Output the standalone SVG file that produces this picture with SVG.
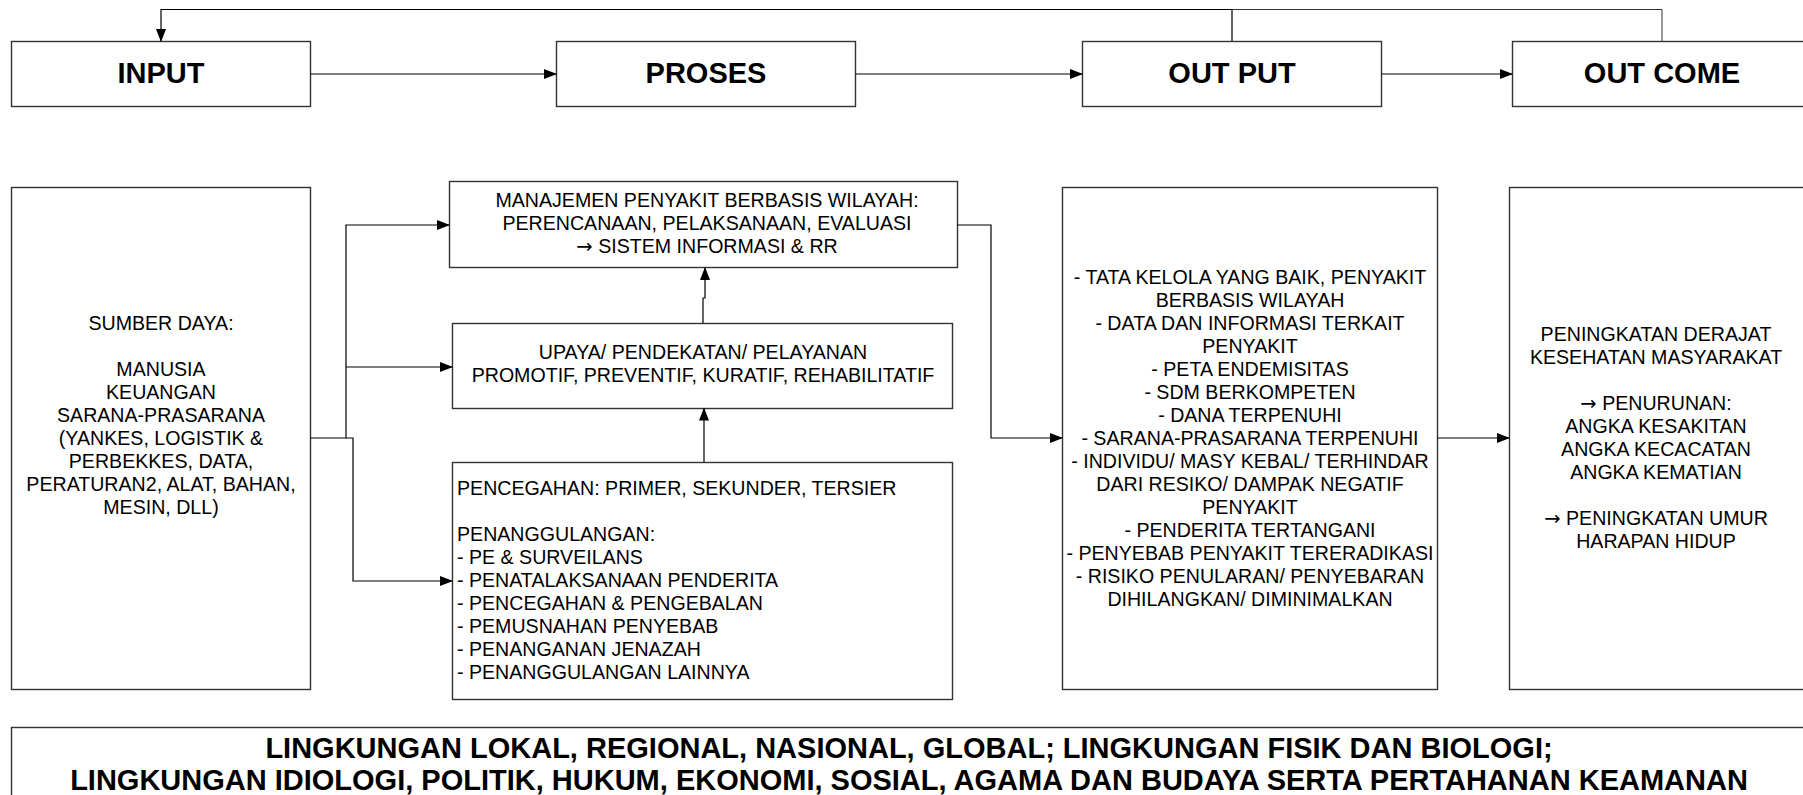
<svg xmlns="http://www.w3.org/2000/svg" width="1803" height="795" viewBox="0 0 1803 795">
<style>
.box{fill:#fff;stroke:#333;stroke-width:1.4}
.t{font-family:"Liberation Sans",Arial,"DejaVu Sans",sans-serif;font-size:19.6px;fill:#000}
.c{text-anchor:middle}
.ar{font-family:"DejaVu Sans",sans-serif}
.h{font-family:"Liberation Sans",Arial,sans-serif;font-size:29px;font-weight:bold;text-anchor:middle;fill:#000}
.ln{fill:none;stroke:#000;stroke-width:1.2}
.ln2{fill:none;stroke:#333;stroke-width:1}
</style>
<defs>
<marker id="ah" markerWidth="13" markerHeight="10" refX="12" refY="5" orient="auto" markerUnits="userSpaceOnUse">
<path d="M0,0 L13,5 L0,10 z" fill="#000"/>
</marker>
</defs>
<rect width="1803" height="795" fill="#fff"/>

<g id="input"><rect class="box" x="11.5" y="41.5" width="299" height="65"/><text class="h" x="161" y="83">INPUT</text></g>
<g id="proses"><rect class="box" x="556.5" y="41.5" width="299" height="65"/><text class="h" x="706" y="83">PROSES</text></g>
<g id="output"><rect class="box" x="1082.5" y="41.5" width="299" height="65"/><text class="h" x="1232" y="83">OUT PUT</text></g>
<g id="outcome"><rect class="box" x="1512.5" y="41.5" width="300" height="65"/><text class="h" x="1662" y="83">OUT COME</text></g>

<g id="sumberdaya"><rect class="box" x="11.5" y="187.5" width="299" height="502"/>
<text class="t c" x="161" y="330">SUMBER DAYA:</text>
<text class="t c" x="161" y="376">MANUSIA</text>
<text class="t c" x="161" y="399">KEUANGAN</text>
<text class="t c" x="161" y="422">SARANA-PRASARANA</text>
<text class="t c" x="161" y="445">(YANKES, LOGISTIK &amp;</text>
<text class="t c" x="161" y="468">PERBEKKES, DATA,</text>
<text class="t c" x="161" y="491">PERATURAN2, ALAT, BAHAN,</text>
<text class="t c" x="161" y="514">MESIN, DLL)</text>
</g>

<g id="manajemen"><rect class="box" x="449.5" y="181.5" width="508" height="86"/>
<text class="t c" x="707" y="207">MANAJEMEN PENYAKIT BERBASIS WILAYAH:</text>
<text class="t c" x="707" y="230">PERENCANAAN, PELAKSANAAN, EVALUASI</text>
<text class="t c" x="707" y="253"><tspan class="ar">→</tspan> SISTEM INFORMASI &amp; RR</text>
</g>

<g id="upaya"><rect class="box" x="452.5" y="323.5" width="500" height="85"/>
<text class="t c" x="703" y="359">UPAYA/ PENDEKATAN/ PELAYANAN</text>
<text class="t c" x="703" y="382">PROMOTIF, PREVENTIF, KURATIF, REHABILITATIF</text>
</g>

<g id="pencegahan"><rect class="box" x="452.5" y="462.5" width="500" height="237"/>
<text class="t" x="457" y="495">PENCEGAHAN: PRIMER, SEKUNDER, TERSIER</text>
<text class="t" x="457" y="541">PENANGGULANGAN:</text>
<text class="t" x="457" y="564">- PE &amp; SURVEILANS</text>
<text class="t" x="457" y="587">- PENATALAKSANAAN PENDERITA</text>
<text class="t" x="457" y="610">- PENCEGAHAN &amp; PENGEBALAN</text>
<text class="t" x="457" y="633">- PEMUSNAHAN PENYEBAB</text>
<text class="t" x="457" y="656">- PENANGANAN JENAZAH</text>
<text class="t" x="457" y="679">- PENANGGULANGAN LAINNYA</text>
</g>

<g id="hasil"><rect class="box" x="1062.5" y="187.5" width="375" height="502"/>
<text class="t c" x="1250" y="284">- TATA KELOLA YANG BAIK, PENYAKIT</text>
<text class="t c" x="1250" y="307">BERBASIS WILAYAH</text>
<text class="t c" x="1250" y="330">- DATA DAN INFORMASI TERKAIT</text>
<text class="t c" x="1250" y="353">PENYAKIT</text>
<text class="t c" x="1250" y="376">- PETA ENDEMISITAS</text>
<text class="t c" x="1250" y="399">- SDM BERKOMPETEN</text>
<text class="t c" x="1250" y="422">- DANA TERPENUHI</text>
<text class="t c" x="1250" y="445">- SARANA-PRASARANA TERPENUHI</text>
<text class="t c" x="1250" y="468">- INDIVIDU/ MASY KEBAL/ TERHINDAR</text>
<text class="t c" x="1250" y="491">DARI RESIKO/ DAMPAK NEGATIF</text>
<text class="t c" x="1250" y="514">PENYAKIT</text>
<text class="t c" x="1250" y="537">- PENDERITA TERTANGANI</text>
<text class="t c" x="1250" y="560">- PENYEBAB PENYAKIT TERERADIKASI</text>
<text class="t c" x="1250" y="583">- RISIKO PENULARAN/ PENYEBARAN</text>
<text class="t c" x="1250" y="606">DIHILANGKAN/ DIMINIMALKAN</text>
</g>

<g id="dampak"><rect class="box" x="1509.5" y="187.5" width="300" height="502"/>
<text class="t c" x="1656" y="341">PENINGKATAN DERAJAT</text>
<text class="t c" x="1656" y="364">KESEHATAN MASYARAKAT</text>
<text class="t c" x="1656" y="410"><tspan class="ar">→</tspan> PENURUNAN:</text>
<text class="t c" x="1656" y="433">ANGKA KESAKITAN</text>
<text class="t c" x="1656" y="456">ANGKA KECACATAN</text>
<text class="t c" x="1656" y="479">ANGKA KEMATIAN</text>
<text class="t c" x="1656" y="525"><tspan class="ar">→</tspan> PENINGKATAN UMUR</text>
<text class="t c" x="1656" y="548">HARAPAN HIDUP</text>
</g>

<g id="lingkungan"><rect class="box" x="11.5" y="727.5" width="1800" height="80"/>
<text class="h" x="909" y="758">LINGKUNGAN LOKAL, REGIONAL, NASIONAL, GLOBAL; LINGKUNGAN FISIK DAN BIOLOGI;</text>
<text class="h" x="909" y="790">LINGKUNGAN IDIOLOGI, POLITIK, HUKUM, EKONOMI, SOSIAL, AGAMA DAN BUDAYA SERTA PERTAHANAN KEAMANAN</text>
</g>

<g id="connectors">
<path class="ln" d="M1232,41 V9.5 H161 V41" marker-end="url(#ah)"/>
<path class="ln2" d="M1662,41 V9.5 H1232"/>
<path class="ln" d="M310.5,74 H556" marker-end="url(#ah)"/>
<path class="ln" d="M855.5,74 H1082" marker-end="url(#ah)"/>
<path class="ln" d="M1381.5,74 H1512" marker-end="url(#ah)"/>
<path class="ln" d="M310.5,438 H346 V225 H449" marker-end="url(#ah)"/>
<path class="ln" d="M346,367 H452" marker-end="url(#ah)"/>
<path class="ln" d="M346,438 H353 V581 H452" marker-end="url(#ah)"/>
<path class="ln" d="M703,323 V298 H705 V268" marker-end="url(#ah)"/>
<path class="ln" d="M704,462 V408.5" marker-end="url(#ah)"/>
<path class="ln" d="M957.5,225 H991 V438 H1062" marker-end="url(#ah)"/>
<path class="ln" d="M1437.5,438 H1509" marker-end="url(#ah)"/>
</g>
</svg>
